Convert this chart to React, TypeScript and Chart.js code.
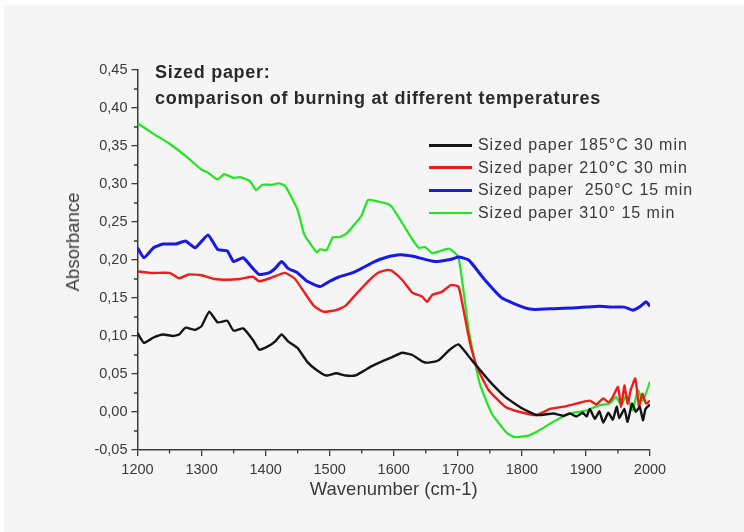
import React, { useEffect, useRef } from "react";
import { Chart, registerables } from "chart.js";

Chart.register(...registerables);

const xMin = 1200;
const xMax = 2000;
const yMin = -0.05;
const yMax = 0.45;
const xMinorTicks = [1250, 1350, 1450, 1550, 1650, 1750, 1850, 1950];
const yMinorTicks = [-0.025, 0.025, 0.075, 0.125, 0.175, 0.225, 0.275, 0.325, 0.375, 0.425];

const blackX = [1200, 1210, 1225, 1240, 1255, 1265, 1275, 1290, 1300, 1312, 1325, 1340, 1350, 1365, 1380, 1390, 1405, 1415, 1425, 1435, 1450, 1465, 1480, 1495, 1510, 1525, 1540, 1555, 1565, 1580, 1597, 1613, 1629, 1646, 1654, 1670, 1686, 1701, 1722, 1748, 1774, 1800, 1823, 1849, 1865, 1875, 1885, 1895, 1901, 1906, 1914, 1921, 1927, 1935, 1942, 1948, 1952, 1960, 1965, 1972, 1978, 1984, 1989, 1993, 2000];
const blackY = [0.104, 0.091, 0.098, 0.102, 0.100, 0.102, 0.111, 0.108, 0.113, 0.132, 0.118, 0.120, 0.107, 0.110, 0.095, 0.082, 0.087, 0.093, 0.102, 0.093, 0.084, 0.066, 0.055, 0.048, 0.051, 0.048, 0.048, 0.055, 0.060, 0.066, 0.072, 0.078, 0.075, 0.066, 0.065, 0.068, 0.081, 0.089, 0.068, 0.042, 0.020, 0.005, -0.004, -0.002, -0.005, -0.002, -0.006, -0.001, -0.006, 0.004, -0.009, 0.001, -0.014, -0.001, -0.010, 0.007, -0.008, 0.004, -0.013, 0.011, 0.000, 0.007, -0.011, 0.004, 0.010];

const redX = [1200, 1220, 1250, 1265, 1280, 1300, 1320, 1340, 1360, 1380, 1390, 1410, 1430, 1445, 1460, 1475, 1490, 1510, 1525, 1540, 1560, 1575, 1590, 1597, 1613, 1629, 1644, 1652, 1660, 1675, 1689, 1701, 1709, 1719, 1730, 1748, 1774, 1797, 1823, 1844, 1865, 1885, 1906, 1916, 1927, 1935, 1942, 1950, 1955, 1960, 1965, 1970, 1977, 1983, 1988, 1994, 2000];
const redY = [0.185, 0.183, 0.183, 0.176, 0.181, 0.180, 0.175, 0.174, 0.175, 0.178, 0.172, 0.177, 0.183, 0.176, 0.158, 0.140, 0.132, 0.134, 0.140, 0.154, 0.172, 0.183, 0.187, 0.186, 0.174, 0.157, 0.152, 0.145, 0.154, 0.158, 0.167, 0.165, 0.134, 0.091, 0.059, 0.029, 0.007, 0.000, -0.004, 0.004, 0.007, 0.011, 0.015, 0.010, 0.018, 0.013, 0.020, 0.033, 0.007, 0.035, 0.011, 0.029, 0.044, 0.007, 0.024, 0.011, 0.015];

const blueX = [1200, 1210, 1225, 1240, 1260, 1275, 1290, 1310, 1325, 1340, 1350, 1365, 1380, 1390, 1405, 1415, 1425, 1435, 1450, 1465, 1485, 1500, 1515, 1535, 1550, 1570, 1590, 1610, 1630, 1664, 1690, 1701, 1717, 1742, 1769, 1805, 1820, 1850, 1880, 1900, 1920, 1940, 1960, 1973, 1985, 1994, 2000];
const blueY = [0.216, 0.203, 0.216, 0.221, 0.221, 0.225, 0.216, 0.233, 0.214, 0.212, 0.198, 0.203, 0.189, 0.181, 0.183, 0.189, 0.198, 0.189, 0.183, 0.172, 0.165, 0.172, 0.178, 0.183, 0.189, 0.198, 0.204, 0.207, 0.205, 0.198, 0.201, 0.204, 0.200, 0.174, 0.150, 0.137, 0.135, 0.136, 0.137, 0.138, 0.139, 0.138, 0.138, 0.134, 0.139, 0.145, 0.139];

const greenX = [1200, 1225, 1250, 1275, 1300, 1310, 1325, 1335, 1350, 1360, 1375, 1385, 1395, 1410, 1420, 1430, 1440, 1450, 1460, 1470, 1480, 1485, 1495, 1505, 1515, 1525, 1540, 1550, 1560, 1575, 1590, 1597, 1613, 1629, 1639, 1649, 1660, 1670, 1686, 1701, 1717, 1734, 1753, 1777, 1789, 1810, 1823, 1849, 1875, 1901, 1921, 1937, 1947, 1955, 1963, 1973, 1981, 1989, 2000];
const greenY = [0.380, 0.366, 0.353, 0.337, 0.319, 0.315, 0.306, 0.313, 0.308, 0.309, 0.304, 0.292, 0.299, 0.299, 0.301, 0.298, 0.283, 0.266, 0.234, 0.221, 0.210, 0.214, 0.213, 0.230, 0.230, 0.234, 0.248, 0.259, 0.279, 0.277, 0.274, 0.270, 0.249, 0.227, 0.216, 0.217, 0.209, 0.211, 0.215, 0.204, 0.108, 0.038, -0.002, -0.028, -0.033, -0.031, -0.026, -0.013, -0.002, 0.002, 0.009, 0.011, 0.020, 0.009, 0.022, 0.002, 0.029, 0.015, 0.040];

const seriesLabels = [
  "Sized paper 185°C 30 min",
  "Sized paper 210°C 30 min",
  "Sized paper  250°C 15 min",
  "Sized paper 310° 15 min",
];
const seriesColors = ["#151515", "#f01c1c", "#1818e8", "#20e620"];
const seriesWidths = [2.4, 2.4, 3, 2.2];
const seriesX = [blackX, redX, blueX, greenX];
const seriesY = [blackY, redY, blueY, greenY];

const titleLine1 = "Sized paper:";
const titleLine2 = "comparison of burning at different temperatures";
const xTitle = "Wavenumber (cm-1)";
const yTitle = "Absorbance";

const axisColor = "#3a3a3a";
const textColor = "#3a3a3a";
const FONT = "'Liberation Sans', Arial, sans-serif";

const minorTicks = {
  id: "minorTicks",
  afterDraw(chart: any) {
    const { ctx, scales } = chart;
    const xs = scales.x;
    const ys = scales.y;
    ctx.save();
    ctx.strokeStyle = axisColor;
    ctx.lineWidth = 1.3;
    ctx.beginPath();
    xMinorTicks.forEach((v) => {
      const px = xs.getPixelForValue(v);
      ctx.moveTo(px, ys.bottom);
      ctx.lineTo(px, ys.bottom + 3.5);
    });
    yMinorTicks.forEach((v) => {
      const py = ys.getPixelForValue(v);
      ctx.moveTo(xs.left, py);
      ctx.lineTo(xs.left - 3.5, py);
    });
    ctx.stroke();
    ctx.restore();
  },
};

export default function App() {
  const ref = useRef<HTMLCanvasElement | null>(null);

  useEffect(() => {
    document.body.style.margin = "0";
    const canvas = ref.current;
    if (!canvas) return;
    const chart = new Chart(canvas, {
      type: "line",
      data: {
        datasets: seriesLabels.map((label, i) => ({
          label,
          data: seriesX[i].map((x, j) => ({ x, y: seriesY[i][j] })),
          borderColor: seriesColors[i],
          backgroundColor: seriesColors[i],
          borderWidth: seriesWidths[i],
          pointRadius: 0,
          tension: 0.15,
          fill: false,
        })),
      },
      options: {
        animation: false,
        responsive: false,
        devicePixelRatio: 1,
        layout: { padding: { left: 63, right: 94, top: 70, bottom: 0 } },
        plugins: {
          legend: { display: false },
          tooltip: { enabled: false },
        },
        scales: {
          x: {
            type: "linear",
            min: xMin,
            max: xMax,
            afterFit: (s: any) => {
              s.height = 82;
            },
            border: { display: true, color: axisColor, width: 1.5 },
            grid: { drawOnChartArea: false, drawTicks: true, tickLength: 6, color: axisColor, lineWidth: 1.3 },
            ticks: {
              stepSize: 100,
              padding: 5,
              color: textColor,
              font: { family: FONT, size: 14.5 },
              maxRotation: 0,
              callback: (v: any) => String(v),
            },
            title: {
              display: true,
              text: xTitle,
              color: textColor,
              font: { family: FONT, size: 18.5 },
              padding: { top: 0, bottom: 31 },
            },
          },
          y: {
            type: "linear",
            min: yMin,
            max: yMax,
            afterFit: (s: any) => {
              s.width = 74.5;
            },
            border: { display: true, color: axisColor, width: 1.5 },
            grid: { drawOnChartArea: false, drawTicks: true, tickLength: 6, color: axisColor, lineWidth: 1.3 },
            ticks: {
              stepSize: 0.05,
              padding: 4,
              color: textColor,
              font: { family: FONT, size: 14.5 },
              callback: (v: any) => Number(v).toFixed(2).replace(".", ","),
            },
          },
        },
      },
      plugins: [minorTicks],
    });
    return () => chart.destroy();
  }, []);

  return (
    <div style={{ position: "relative", width: 744, height: 532, background: "#ffffff", overflow: "hidden" }}>
      <div style={{ position: "absolute", left: 4, top: 5, right: 0, bottom: 0, background: "#f4f5f4" }} />
      <canvas ref={ref} width={744} height={532} style={{ position: "absolute", left: 0, top: 0, width: 744, height: 532 }} />
      <div
        style={{
          position: "absolute",
          left: 155,
          top: 60,
          fontFamily: FONT,
          fontWeight: "bold",
          fontSize: 18,
          lineHeight: "25.5px",
          letterSpacing: 0.7,
          color: "#2a2a2a",
          whiteSpace: "pre",
        }}
      >
        <div>{titleLine1}</div>
        <div>{titleLine2}</div>
      </div>
      <div
        style={{
          position: "absolute",
          left: 73,
          top: 242,
          transform: "translate(-50%, -50%) rotate(-90deg)",
          fontFamily: FONT,
          fontSize: 18.5,
          color: textColor,
          whiteSpace: "pre",
        }}
      >
        {yTitle}
      </div>
      <div style={{ position: "absolute", left: 429, top: 134, fontFamily: FONT, fontSize: 16, color: textColor }}>
        {seriesLabels.map((label, i) => (
          <div key={label} style={{ display: "flex", alignItems: "center", height: 22.6 }}>
            <div style={{ width: 43, height: seriesWidths[i] + 0.6, background: seriesColors[i], marginRight: 6 }} />
            <span style={{ whiteSpace: "pre", letterSpacing: 0.95 }}>{label}</span>
          </div>
        ))}
      </div>
    </div>
  );
}
